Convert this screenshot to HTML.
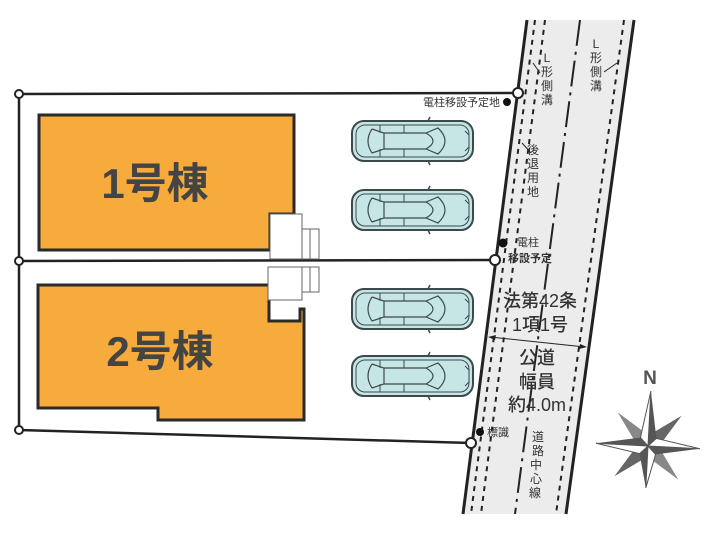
<!DOCTYPE html>
<html><head><meta charset="utf-8"><style>
html,body{margin:0;padding:0;background:#fff;width:713px;height:540px;overflow:hidden}
svg{display:block}
text{font-family:"Liberation Sans","Noto Sans CJK JP",sans-serif;fill:#333}
</style></head><body>
<svg width="713" height="540" viewBox="0 0 713 540" xmlns="http://www.w3.org/2000/svg">
<defs>
<g id="car">
<rect x="0" y="0" width="121" height="40" rx="12" fill="#c6e6e6" stroke="#3c4a4c" stroke-width="2"/>
<rect x="4" y="4" width="113" height="32" rx="9" fill="none" stroke="#3c4a4c" stroke-width="1"/>
<path d="M20 8 Q12 20 20 32" fill="none" stroke="#3c4a4c" stroke-width="1.2"/>
<path d="M20 8 L32 12 L32 28 L20 32" fill="none" stroke="#3c4a4c" stroke-width="1.2"/>
<path d="M32 12 L74 12 M32 28 L74 28" stroke="#3c4a4c" stroke-width="1.2"/>
<path d="M74 12 Q88 20 74 28 M74 12 L86 7 Q100 20 86 33 L74 28" fill="none" stroke="#3c4a4c" stroke-width="1.2"/>
<path d="M28 4 L28 12 M52 4 L52 12 M28 28 L28 36 M52 28 L52 36" stroke="#3c4a4c" stroke-width="1"/>
<path d="M76 0 L78 -4 M76 40 L78 44" stroke="#3c4a4c" stroke-width="1.5"/>
<path d="M113 10 L117 14 M113 30 L117 26" stroke="#3c4a4c" stroke-width="1"/>
</g>
</defs>
<polygon points="527,20 634,20 566,514 463,514" fill="#ececec"/>
<line x1="527" y1="20" x2="463" y2="514" stroke="#222" stroke-width="3"/>
<line x1="634" y1="20" x2="566" y2="514" stroke="#222" stroke-width="3"/>
<g stroke="#222" stroke-width="2" stroke-dasharray="5,5" fill="none">
<line x1="535" y1="20" x2="471" y2="514"/>
<line x1="545" y1="20" x2="481" y2="514"/>
<line x1="624" y1="20" x2="556" y2="514"/>
</g>
<line x1="580" y1="20" x2="515" y2="514" stroke="#222" stroke-width="2" stroke-dasharray="26,6,3,6"/>
<g stroke="#222" stroke-width="2.5" fill="none">
<line x1="19" y1="94" x2="518" y2="93"/>
<line x1="19" y1="261" x2="495" y2="260"/>
<line x1="19" y1="430" x2="471" y2="443"/>
<line x1="19" y1="94" x2="19" y2="430"/>
</g>
<polygon points="39,115 294,115 294,214 270,214 270,250 39,250" fill="#f7ab3c" stroke="#2a2a2a" stroke-width="3"/>
<polygon points="38,285 269,285 269,321 300,321 300,309 304,309 304,420 158,420 158,408 38,408" fill="#f7ab3c" stroke="#2a2a2a" stroke-width="3"/>
<g fill="#fff" stroke="#666" stroke-width="1">
<rect x="270" y="214" width="32" height="45"/>
<rect x="302" y="229" width="8" height="30"/><rect x="310" y="229" width="9" height="30"/>
<rect x="268" y="267" width="34" height="33"/>
<rect x="302" y="267" width="8" height="25"/><rect x="310" y="267" width="9" height="25"/>
</g>
<text x="155" y="198" font-size="42" font-weight="bold" text-anchor="middle" style="fill:#444">1号棟</text>
<text x="160" y="366" font-size="42" font-weight="bold" text-anchor="middle" style="fill:#444">2号棟</text>
<use href="#car" x="352" y="121"/>
<use href="#car" x="352" y="190"/>
<use href="#car" x="352" y="289"/>
<use href="#car" x="352" y="356"/>
<g fill="#fff" stroke="#222" stroke-width="2">
<circle cx="19" cy="94" r="4"/><circle cx="19" cy="261" r="4"/><circle cx="19" cy="430" r="4"/>
<circle cx="518" cy="93" r="5"/><circle cx="495" cy="260" r="5"/><circle cx="471" cy="443" r="5"/>
</g>
<circle cx="507" cy="102" r="4" fill="#111"/>
<circle cx="503" cy="243" r="4.5" fill="#111"/>
<circle cx="480" cy="432" r="4" fill="#111"/>
<text x="500" y="106" font-size="11" text-anchor="end">電柱移設予定地</text>
<text x="517" y="246" font-size="11">電柱</text>
<text x="508" y="262" font-size="11" font-weight="bold">移設予定</text>
<text x="487" y="436" font-size="11">標識</text>
<g font-size="12" text-anchor="middle">
<text x="547" y="62">L</text><text x="547" y="76">形</text><text x="547" y="90">側</text><text x="547" y="104">溝</text>
<text x="596" y="48">L</text><text x="596" y="62">形</text><text x="596" y="76">側</text><text x="596" y="90">溝</text>
<text x="533" y="154">後</text><text x="533" y="168">退</text><text x="533" y="182">用</text><text x="533" y="196">地</text>
<text x="538" y="441">道</text><text x="538" y="455">路</text><text x="536" y="469">中</text><text x="536" y="483">心</text><text x="535" y="497">線</text>
</g>
<g stroke="#222" stroke-width="1">
<line x1="533" y1="63" x2="540" y2="73"/>
<line x1="604" y1="72" x2="617" y2="63"/>
<line x1="522" y1="143" x2="531" y2="153"/>
</g>
<g font-size="18" text-anchor="middle" style="font-weight:500">
<text x="540" y="307">法第42条</text>
<text x="540" y="331">1項1号</text>
<text x="537" y="364">公道</text>
<text x="537" y="388">幅員</text>
<text x="537" y="411">約4.0m</text>
</g>
<line x1="490" y1="337" x2="585" y2="347" stroke="#222" stroke-width="1"/>
<polygon points="488,337 496,335 495,340" fill="#222"/>
<polygon points="587,347 579,349 580,344" fill="#222"/>
<text x="650" y="384" font-size="19" font-weight="bold" text-anchor="middle" style="fill:#555">N</text>
<g transform="translate(648,446) rotate(3)">
<polygon points="0,0 -5,-14 -32,-32 -14,-5" fill="#888"/>
<polygon points="0,0 5,-14 32,-32 14,-5" fill="#666"/>
<polygon points="0,0 -5,14 -32,32 -14,5" fill="#666"/>
<polygon points="0,0 5,14 32,32 14,5" fill="#888"/>
<polygon points="0,-55 -8,-8 0,0" fill="#fff" stroke="#555" stroke-width="1"/>
<polygon points="0,-55 8,-8 0,0" fill="#555"/>
<polygon points="0,42 -8,8 0,0" fill="#555"/>
<polygon points="0,42 8,8 0,0" fill="#fff" stroke="#555" stroke-width="1"/>
<polygon points="-52,0 -8,-8 0,0" fill="#555"/>
<polygon points="-52,0 -8,8 0,0" fill="#fff" stroke="#555" stroke-width="1"/>
<polygon points="52,0 8,8 0,0" fill="#555"/>
<polygon points="52,0 8,-8 0,0" fill="#fff" stroke="#555" stroke-width="1"/>
</g>
</svg>
</body></html>
